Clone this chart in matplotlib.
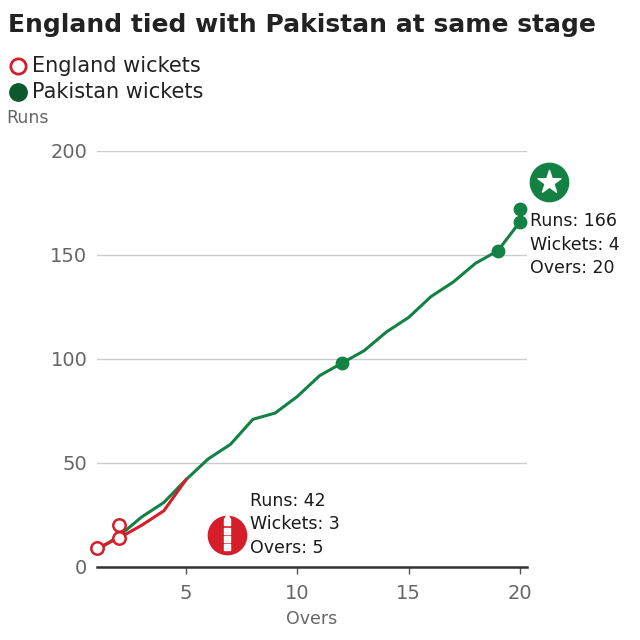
import matplotlib
matplotlib.use("Agg")
import matplotlib.pyplot as plt

# data
eng_overs = [1, 2, 3, 4, 5]
eng_runs = [9, 14, 20, 27, 42]
eng_wkt_overs = [1, 2, 2]
eng_wkt_runs = [9, 14, 20]

pak_overs = list(range(1, 21))
pak_runs = [8, 15, 24, 31, 42, 52, 59, 71, 74, 82, 92, 98, 104, 113, 120,
            130, 137, 146, 152, 166]
pak_wkt_overs = [12, 19, 20, 20]
pak_wkt_runs = [98, 152, 166, 172]

eng_red = "#d61d2a"
pak_green = "#138143"
pak_dark = "#0b5a2d"
grey = "#666666"

plt.rcParams['font.family'] = ['DejaVu Sans']

fig = plt.figure(figsize=(6.4, 6.4), dpi=100)
ax = fig.add_axes([0.1516, 0.1141, 0.6714, 0.65])

ax.plot(pak_overs, pak_runs, color=pak_green, lw=2.2, zorder=3)
ax.plot(eng_overs, eng_runs, color=eng_red, lw=2.2, zorder=4)
ax.scatter(pak_wkt_overs, pak_wkt_runs, s=80, color=pak_green, zorder=5, clip_on=False)
ax.scatter(eng_wkt_overs, eng_wkt_runs, s=80, facecolor="white", edgecolor=eng_red,
           lw=1.8, zorder=5, clip_on=False)

# team badges
ax.scatter([6.84], [15.5], s=760, color=eng_red, zorder=5, clip_on=False)
ax.scatter([6.84] * 4, [9.5, 13.5, 17.5, 21.5], s=22, marker="s", color="white",
           zorder=6, clip_on=False)
ax.scatter([6.84], [24.5], s=16, marker="^", color="white", zorder=6, clip_on=False)
ax.scatter([21.3], [185], s=760, color=pak_green, zorder=5, clip_on=False)
ax.scatter([21.3], [185], s=300, marker="*", color="white", zorder=6, clip_on=False)

ax.text(7.85, 20.5, "Runs: 42\nWickets: 3\nOvers: 5", fontsize=12.5, va="center",
        linespacing=1.4, color="#1a1a1a")
ax.text(20.45, 155, "Runs: 166\nWickets: 4\nOvers: 20", fontsize=12.5, va="center",
        linespacing=1.4, color="#1a1a1a", clip_on=False)

ax.set_xlim(1, 20.3)
ax.set_ylim(0, 200)
ax.set_xticks([5, 10, 15, 20])
ax.set_yticks([0, 50, 100, 150, 200])
ax.grid(axis="y", color="#cccccc", lw=1)
ax.set_axisbelow(True)
for s in ["top", "right", "left"]:
    ax.spines[s].set_visible(False)
ax.spines["bottom"].set_color("#333333")
ax.spines["bottom"].set_linewidth(1.8)
ax.tick_params(axis="y", length=0, labelsize=14, labelcolor=grey, pad=7)
ax.tick_params(axis="x", length=5, width=1, color="#555555", labelsize=14,
               labelcolor=grey, pad=7)
ax.set_xlabel("Overs", fontsize=12.5, color=grey, labelpad=5)

fig.text(0.012, 0.961, "England tied with Pakistan at same stage", fontsize=18,
         fontweight="bold", color="#222222", va="center")
fig.lines.append(plt.Line2D([0.028], [0.897], marker="o", ms=11, mfc="white", mec=eng_red,
                            mew=2, transform=fig.transFigure))
fig.lines.append(plt.Line2D([0.028], [0.856], marker="o", ms=12.5, mfc=pak_dark, mec=pak_dark,
                            transform=fig.transFigure))
fig.text(0.05, 0.897, "England wickets", fontsize=15, va="center", color="#222222")
fig.text(0.05, 0.856, "Pakistan wickets", fontsize=15, va="center", color="#222222")
fig.text(0.01, 0.816, "Runs", fontsize=12.5, va="center", color=grey)

fig.savefig("out.png", dpi=100)
